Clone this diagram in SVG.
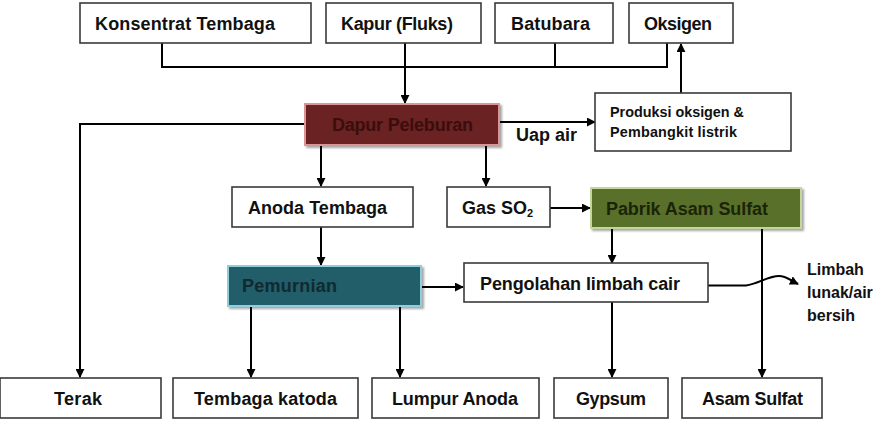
<svg xmlns="http://www.w3.org/2000/svg" width="886" height="422" viewBox="0 0 886 422">
<style>
.box{fill:#ffffff;stroke:#3a3a3a;stroke-width:1.6}
.t{font-family:"Liberation Sans",Arial,sans-serif;font-weight:bold;font-size:18px;fill:#111}
.s{font-family:"Liberation Sans",Arial,sans-serif;font-weight:bold;font-size:14.4px;fill:#111}
.ln{fill:none;stroke:#000;stroke-width:2}
.ar{fill:none;stroke:#000;stroke-width:2;marker-end:url(#ah)}
</style>
<defs>
<marker id="ah" viewBox="0 0 10 10" refX="9" refY="5" markerWidth="9" markerHeight="9" markerUnits="userSpaceOnUse" orient="auto">
<path d="M0,0 L10,5 L0,10 z" fill="#000"/>
</marker>
<filter id="sh" x="-5%" y="-10%" width="115%" height="130%">
<feDropShadow dx="2" dy="2" stdDeviation="1.2" flood-color="#000" flood-opacity="0.35"/>
</filter>
</defs>
<g id="connectors">
<polyline class="ln" points="162,43 162,67 667,67 667,43"/>
<line class="ln" x1="555" y1="43" x2="555" y2="67"/>
<line class="ar" x1="405" y1="43" x2="405" y2="103"/>
<line class="ar" x1="681" y1="93" x2="681" y2="44"/>
<line class="ar" x1="499" y1="122" x2="595" y2="122"/>
<polyline class="ar" points="305,124 80,124 80,377"/>
<line class="ar" x1="321" y1="146" x2="321" y2="186"/>
<line class="ar" x1="486" y1="146" x2="486" y2="186"/>
<line class="ar" x1="550" y1="208" x2="590" y2="208"/>
<line class="ar" x1="321" y1="227" x2="321" y2="265"/>
<line class="ar" x1="421" y1="287" x2="463" y2="287"/>
<line class="ar" x1="612" y1="229" x2="612" y2="263"/>
<line class="ar" x1="762" y1="229" x2="762" y2="377"/>
<line class="ar" x1="251" y1="307" x2="251" y2="377"/>
<line class="ar" x1="400" y1="307" x2="400" y2="377"/>
<line class="ar" x1="612" y1="302" x2="612" y2="377"/>
<path class="ar" d="M708,285.5 L746,285.5 C758,284 768,276 779,276 C786,276 792,281 798,284"/>
</g>
<g id="n-konsentrat"><rect class="box" x="80" y="3" width="231" height="40"/><text class="t" x="95" y="30" textLength="180">Konsentrat Tembaga</text></g>
<g id="n-kapur"><rect class="box" x="326" y="3" width="155" height="40"/><text class="t" x="341" y="30" textLength="112">Kapur (Fluks)</text></g>
<g id="n-batubara"><rect class="box" x="495" y="3" width="118" height="40"/><text class="t" x="511" y="30" textLength="79">Batubara</text></g>
<g id="n-oksigen"><rect class="box" x="629" y="3" width="104" height="40"/><text class="t" x="644" y="30" textLength="68">Oksigen</text></g>
<g id="n-dapur"><rect x="305" y="104" width="194" height="41" fill="#6a2424" stroke="#d99694" stroke-width="2" filter="url(#sh)"/><text class="t" x="332" y="131" textLength="141" style="fill:#3a0e0e">Dapur Peleburan</text></g>
<g id="n-produksi"><rect class="box" x="595" y="93" width="196" height="58"/><text class="s" x="610" y="117" textLength="134">Produksi oksigen &amp;</text><text class="s" x="610" y="137" textLength="127">Pembangkit listrik</text></g>
<g id="l-uap"><text class="t" x="516" y="141" textLength="61">Uap air</text></g>
<g id="n-anoda"><rect class="box" x="232" y="187" width="181" height="40"/><text class="t" x="248" y="214" textLength="139">Anoda Tembaga</text></g>
<g id="n-gas"><rect class="box" x="447" y="187" width="103" height="40"/><text class="t" x="462" y="214">Gas SO<tspan font-size="11" dy="3">2</tspan></text></g>
<g id="n-pabrik"><rect x="591" y="188" width="210" height="40" fill="#586f2c" stroke="#c3d69b" stroke-width="2" filter="url(#sh)"/><text class="t" x="606" y="215" textLength="162" style="fill:#1c2408">Pabrik Asam Sulfat</text></g>
<g id="n-pemurnian"><rect x="228" y="266" width="193" height="40" fill="#245d6b" stroke="#92cddc" stroke-width="2" filter="url(#sh)"/><text class="t" x="242" y="292" textLength="95" style="fill:#0f2a30">Pemurnian</text></g>
<g id="n-pengolahan"><rect class="box" x="464" y="263" width="244" height="39"/><text class="t" x="480" y="290" textLength="200">Pengolahan limbah cair</text></g>
<g id="l-limbah"><text class="t" x="807" y="275" style="font-size:16px">Limbah</text><text class="t" x="807" y="298" style="font-size:16px">lunak/air</text><text class="t" x="807" y="321" style="font-size:16px">bersih</text></g>
<g id="n-terak"><rect class="box" x="0" y="378" width="161" height="40"/><text class="t" x="54" y="405" textLength="48">Terak</text></g>
<g id="n-tembaga"><rect class="box" x="173" y="378" width="185" height="40"/><text class="t" x="194" y="405" textLength="143">Tembaga katoda</text></g>
<g id="n-lumpur"><rect class="box" x="372" y="378" width="167" height="40"/><text class="t" x="392" y="405" textLength="126">Lumpur Anoda</text></g>
<g id="n-gypsum"><rect class="box" x="554" y="378" width="114" height="40"/><text class="t" x="576" y="405" textLength="70">Gypsum</text></g>
<g id="n-asam"><rect class="box" x="682" y="378" width="140" height="40"/><text class="t" x="702" y="405" textLength="101">Asam Sulfat</text></g>
</svg>
